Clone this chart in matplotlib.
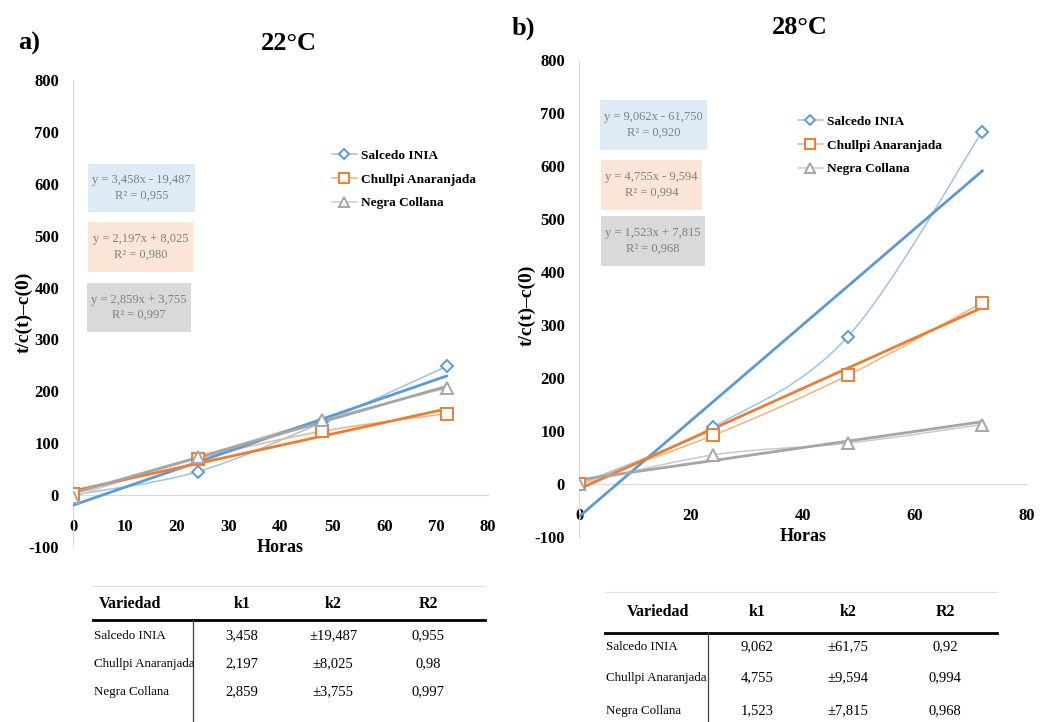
import numpy as np
import matplotlib
matplotlib.use('Agg')
import matplotlib.pyplot as plt
from matplotlib.path import Path
from matplotlib.patches import PathPatch, Rectangle
from matplotlib.lines import Line2D

plt.rcParams['font.family'] = ['Liberation Serif', 'DejaVu Serif']
plt.rcParams['font.weight'] = 'bold'
plt.rcParams['axes.unicode_minus'] = False

######################################################################################
horas = [0, 24, 48, 72]
variedades = ['Salcedo INIA', 'Chullpi Anaranjada', 'Negra Collana']

# 22 C
y22_salcedo = [0, 45, 140, 248]
y22_chullpi = [3, 70, 123, 157]
y22_negra = [-3, 73, 145, 206]
k1_22 = [3.458, 2.197, 2.859]
k2_22 = [-19.487, 8.025, 3.755]
r2_22 = [0.955, 0.980, 0.997]

# 28 C
y28_salcedo = [0, 108, 278, 665]
y28_chullpi = [0, 92, 205, 342]
y28_negra = [0, 55, 77, 112]
k1_28 = [9.062, 4.755, 1.523]
k2_28 = [-61.750, -9.594, 7.815]
r2_28 = [0.920, 0.994, 0.968]

colores = ['#5B9BD5', '#ED7D31', '#A5A5A5']
claros = ['#9DC3E6', '#F4B183', '#C9C9C9']
cajas = ['#DDEBF7', '#FBE5D6', '#D9D9D9']
marcadores = ['D', 's', '^']
msize = [6, 8, 8]

W, H = 1041, 722
fig = plt.figure(figsize=(W / 100, H / 100), dpi=100)


def fx(x):
    return x / W


def fy(y):
    return 1 - y / H


def coma(v, dec=3):
    return ('%.*f' % (dec, v)).replace('.', ',')


def corto(v):
    s = ('%.3f' % v).rstrip('0').rstrip('.')
    return s.replace('.', ',')


def curva(ax, xs, ys, color):
    # linea suavizada tipo Excel (Catmull-Rom como bezier)
    p = np.column_stack([xs, ys]).astype(float)
    n = len(p)
    verts = [p[0]]
    codes = [Path.MOVETO]
    for i in range(n - 1):
        p0 = p[i - 1] if i > 0 else p[i]
        p3 = p[i + 2] if i + 2 < n else p[i + 1]
        c1 = p[i] + (p[i + 1] - p0) / 6
        c2 = p[i + 1] - (p3 - p[i]) / 6
        verts += [c1, c2, p[i + 1]]
        codes += [Path.CURVE4] * 3
    ax.add_patch(PathPatch(Path(verts, codes), fill=False, edgecolor=color, lw=1.1, zorder=2))


def panel(rect, series, k1, k2, xticks):
    ax = fig.add_axes(rect)
    ax.set_xlim(0, 80)
    ax.set_ylim(-100, 800)
    for s in ['top', 'right']:
        ax.spines[s].set_visible(False)
    ax.spines['bottom'].set_position(('data', 0))
    ax.spines['bottom'].set_color('#D9D9D9')
    ax.spines['bottom'].set_linewidth(0.8)
    ax.spines['left'].set_color('#D9D9D9')
    ax.spines['left'].set_linewidth(0.8)
    ax.set_yticks(range(-100, 801, 100))
    ax.set_xticks(xticks)
    ax.tick_params(axis='both', length=0, labelsize=12)
    ax.tick_params(axis='y', pad=10)
    ax.tick_params(axis='x', pad=17)
    handles = []
    for i, ys in enumerate(series):
        curva(ax, horas, ys, claros[i])
        ax.plot(horas, ys, ls='None', marker=marcadores[i], ms=msize[i],
                mfc='white', mec=colores[i], mew=1.4, zorder=4)
        handles.append(Line2D([], [], color=claros[i], lw=1.1, marker=marcadores[i], ms=msize[i] * 0.85,
                              mfc='white', mec=colores[i], mew=1.4))
        xt = np.array([0, 72])
        ax.plot(xt, k1[i] * xt + k2[i], color=colores[i], lw=2, zorder=3)
    ax.set_xlabel('Horas', fontsize=13, fontweight='bold', labelpad=3)
    return ax, handles


# --- panel a
ax1, h1 = panel([fx(73), fy(547), fx(488 - 73), (547 - 80) / H], [y22_salcedo, y22_chullpi, y22_negra],
                k1_22, k2_22, range(0, 81, 10))
# --- panel b
ax2, h2 = panel([fx(579), fy(537), fx(1027 - 579), (537 - 60) / H], [y28_salcedo, y28_chullpi, y28_negra],
                k1_28, k2_28, range(0, 81, 20))

fig.text(fx(24), fy(312), 't/c(t)\u2013c(0)', rotation=90, ha='center', va='center', fontsize=14, fontweight='bold')
fig.text(fx(527), fy(305), 't/c(t)\u2013c(0)', rotation=90, ha='center', va='center', fontsize=14, fontweight='bold')

fig.text(fx(29), fy(43), 'a)', ha='center', va='center', fontsize=19, fontweight='bold')
fig.text(fx(289), fy(43), '22°C', ha='center', va='center', fontsize=19, fontweight='bold')
fig.text(fx(523), fy(28), 'b)', ha='center', va='center', fontsize=19, fontweight='bold')
fig.text(fx(800), fy(28), '28°C', ha='center', va='center', fontsize=19, fontweight='bold')

# leyendas
for ax, hh, anc in [(ax1, h1, (fx(325), fy(143))), (ax2, h2, (fx(791), fy(109)))]:
    ax.legend(hh, variedades, loc='upper left', bbox_to_anchor=anc, bbox_transform=fig.transFigure,
              frameon=False, prop={'weight': 'bold', 'size': 9.6}, handlelength=1.9, labelspacing=0.85,
              handletextpad=0.3, borderpad=0)


# cajas de ecuaciones
def caja(x0, y0, x1, y1, color, k1, k2, r2):
    fig.patches.append(Rectangle((fx(x0), fy(y1)), fx(x1 - x0), (y1 - y0) / H, transform=fig.transFigure,
                                 facecolor=color, edgecolor='none', zorder=1))
    signo = '-' if k2 < 0 else '+'
    txt = 'y = %sx %s %s\nR² = %s' % (coma(k1), signo, coma(abs(k2)), coma(r2))
    fig.text(fx((x0 + x1) / 2), fy((y0 + y1) / 2), txt, ha='center', va='center', fontsize=9,
             fontweight='normal', color='#808080', linespacing=1.35, zorder=2)


boxes22 = [(88, 164, 195, 212), (88, 222, 193, 272), (87, 283, 191, 332)]
boxes28 = [(600, 100, 707, 150), (601, 160, 702, 210), (601, 216, 705, 266)]
for i in range(3):
    caja(*boxes22[i], cajas[i], k1_22[i], k2_22[i], r2_22[i])
    caja(*boxes28[i], cajas[i], k1_28[i], k2_28[i], r2_28[i])


# tablas
def tabla(x0, x1, xv, cols, ytop, yhead, yline, filas, k1, k2, r2):
    fig.add_artist(Line2D([fx(x0), fx(x1)], [fy(ytop), fy(ytop)], color='#E0E0E0', lw=0.8))
    fig.add_artist(Line2D([fx(x0), fx(x1)], [fy(yline), fy(yline)], color='black', lw=2))
    fig.add_artist(Line2D([fx(xv), fx(xv)], [fy(yline), fy(722)], color='#404040', lw=0.9))
    for c, t in zip(cols, ['Variedad', 'k1', 'k2', 'R2']):
        fig.text(fx(c), fy(yhead), t, ha='center', va='center', fontsize=11.5, fontweight='bold')
    for j, yr in enumerate(filas):
        kw = dict(va='center', fontsize=9.4, fontweight='normal')
        fig.text(fx(x0 + 1), fy(yr), variedades[j], ha='left', **kw)
        kw['fontsize'] = 10.5
        fig.text(fx(cols[1]), fy(yr), corto(k1[j]), ha='center', **kw)
        fig.text(fx(cols[2]), fy(yr), '±' + corto(abs(k2[j])), ha='center', **kw)
        fig.text(fx(cols[3]), fy(yr), corto(r2[j]), ha='center', **kw)


tabla(93, 485, 193, [130, 242, 333, 428], 586, 604, 620, [636, 664, 692], k1_22, k2_22, r2_22)
tabla(605, 997, 708, [658, 757, 848, 945], 592, 612, 633, [647, 678, 711], k1_28, k2_28, r2_28)

fig.savefig('out.png', dpi=100, facecolor='white')
